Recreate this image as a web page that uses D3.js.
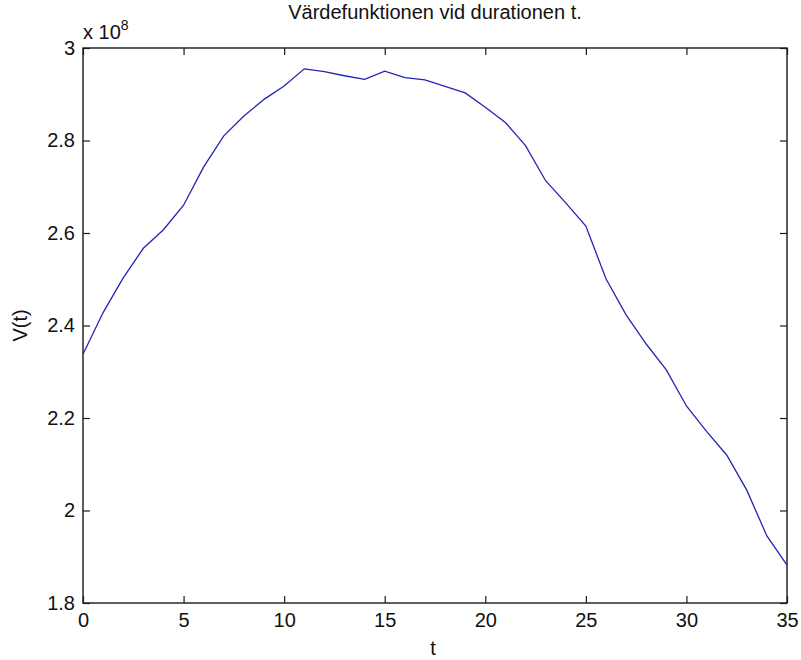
<!DOCTYPE html>
<html>
<head>
<meta charset="utf-8">
<script src="https://cdn.jsdelivr.net/npm/d3@7"></script>
<style>
  html, body { margin: 0; padding: 0; background: #fff; }
  svg { display: block; }
  text { font-family: "Liberation Sans", Arial, sans-serif; fill: #111; }
</style>
</head>
<body>
<svg id="chart" width="801" height="660"></svg>
<script>
// Duration t (integer steps) and value function V(t)
const durations = d3.range(0, 36);
const values = [
  2.338e8, 2.428e8, 2.503e8, 2.567e8, 2.607e8, 2.660e8, 2.743e8, 2.810e8,
  2.853e8, 2.889e8, 2.918e8, 2.955e8, 2.949e8, 2.940e8, 2.932e8, 2.950e8,
  2.936e8, 2.931e8, 2.917e8, 2.903e8, 2.872e8, 2.839e8, 2.789e8, 2.713e8,
  2.665e8, 2.615e8, 2.501e8, 2.423e8, 2.360e8, 2.304e8, 2.226e8, 2.171e8,
  2.120e8, 2.044e8, 1.945e8, 1.882e8
];
const xTicks = [0, 5, 10, 15, 20, 25, 30, 35];
const yTicks = [1.8e8, 2.0e8, 2.2e8, 2.4e8, 2.6e8, 2.8e8, 3.0e8];
const titleText = "Värdefunktionen vid durationen t.";
const xLabel = "t";
const yLabel = "V(t)";

const margin = { left: 83, right: 14, top: 48, bottom: 57 };
const W = 801, H = 660;
const svg = d3.select("#chart");

const x = d3.scaleLinear().domain([0, 35]).range([margin.left, W - margin.right]);
const y = d3.scaleLinear().domain([1.8e8, 3.0e8]).range([H - margin.bottom, margin.top]);

const fmtY = d => String(+(d / 1e8).toFixed(1));
const fs = 20;
const tickLen = 7;
const axisColor = "#1a1a1a";

function styleAxis(g) {
  g.select(".domain").remove();
  g.selectAll(".tick line").attr("stroke", axisColor).attr("stroke-width", 1.2);
  g.selectAll("text").attr("font-size", fs).attr("font-family", "Liberation Sans, Arial, sans-serif").attr("fill", "#111");
}

// bottom axis with labels
svg.append("g")
  .attr("transform", `translate(0,${y.range()[0]})`)
  .call(d3.axisBottom(x).tickValues(xTicks).tickSizeInner(-tickLen).tickSizeOuter(0).tickPadding(10).tickFormat(d3.format("d")))
  .call(styleAxis);

// top axis (ticks only)
svg.append("g")
  .attr("transform", `translate(0,${y.range()[1]})`)
  .call(d3.axisTop(x).tickValues(xTicks).tickSizeInner(-tickLen).tickSizeOuter(0).tickFormat(""))
  .call(styleAxis);

// left axis with labels
svg.append("g")
  .attr("transform", `translate(${x.range()[0]},0)`)
  .call(d3.axisLeft(y).tickValues(yTicks).tickSizeInner(-tickLen).tickSizeOuter(0).tickPadding(8).tickFormat(fmtY))
  .call(styleAxis);

// right axis (ticks only)
svg.append("g")
  .attr("transform", `translate(${x.range()[1]},0)`)
  .call(d3.axisRight(y).tickValues(yTicks).tickSizeInner(-tickLen).tickSizeOuter(0).tickFormat(""))
  .call(styleAxis);

// plot box
svg.append("rect")
  .attr("x", x.range()[0]).attr("y", y.range()[1])
  .attr("width", x.range()[1] - x.range()[0])
  .attr("height", y.range()[0] - y.range()[1])
  .attr("fill", "none").attr("stroke", axisColor).attr("stroke-width", 1.4);

// value curve
const line = d3.line().x((d, i) => x(durations[i])).y(d => y(d));
svg.append("path")
  .datum(values)
  .attr("d", line)
  .attr("fill", "none")
  .attr("stroke", "#2424b4")
  .attr("stroke-width", 1.3);

// exponent marker
const expo = svg.append("text")
  .attr("x", x.range()[0])
  .attr("y", margin.top - 9)
  .attr("font-size", fs);
expo.append("tspan").text("x 10");
expo.append("tspan").attr("font-size", 14).attr("dy", -9).text("8");

// title
svg.append("text")
  .attr("x", (x.range()[0] + x.range()[1]) / 2)
  .attr("y", 19)
  .attr("text-anchor", "middle")
  .attr("font-size", fs)
  .text(titleText);

// axis labels
svg.append("text")
  .attr("x", (x.range()[0] + x.range()[1]) / 2 - 2)
  .attr("y", 655)
  .attr("text-anchor", "middle")
  .attr("font-size", fs)
  .text(xLabel);

svg.append("text")
  .attr("transform", `translate(27,${(y.range()[0] + y.range()[1]) / 2}) rotate(-90)`)
  .attr("text-anchor", "middle")
  .attr("font-size", fs)
  .text(yLabel);
</script>
</body>
</html>
